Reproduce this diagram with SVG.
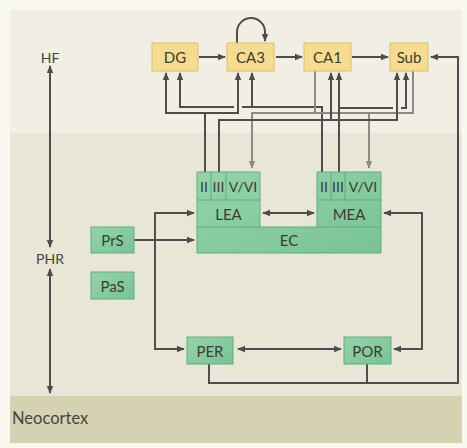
<svg xmlns="http://www.w3.org/2000/svg" width="467" height="448" viewBox="0 0 467 448">
<style>
.lbl{font-family:Lato,"Open Sans","Liberation Sans",sans-serif;font-size:15px;fill:#3c3c36;text-anchor:middle;dominant-baseline:central}
.side{font-family:Lato,"Open Sans","Liberation Sans",sans-serif;font-size:14px;fill:#45453e;text-anchor:middle;dominant-baseline:central}
.lay{font-family:Lato,"Open Sans","Liberation Sans",sans-serif;font-size:14px;fill:#3c3c36;text-anchor:middle;dominant-baseline:central}
.hf{fill:#f6dc8e;stroke:#dcc070;stroke-width:1}
.gr{fill:url(#g);stroke:#5fae7e;stroke-width:1}
.div{fill:none;stroke:#5fae7e;stroke-width:1}
.dk{fill:none;stroke:#4d4d4d;stroke-width:2;stroke-linecap:square;stroke-linejoin:miter}
.gy{fill:none;stroke:#8a8a88;stroke-width:2;stroke-linecap:square;stroke-linejoin:miter}
.a2{marker-start:url(#ad);marker-end:url(#ad)}
.a1{marker-end:url(#ad)}
.g1{marker-end:url(#ag)}
</style>
<defs>
<linearGradient id="g" x1="0" y1="0" x2="1" y2="1">
<stop offset="0" stop-color="#93d4a9"/>
<stop offset="1" stop-color="#79c393"/>
</linearGradient>
<marker id="ad" viewBox="0 0 10 10" refX="7.5" refY="5" markerWidth="8" markerHeight="8" markerUnits="userSpaceOnUse" orient="auto-start-reverse">
<path d="M0,1 L10,5 L0,9 z" fill="#4d4d4d"/>
</marker>
<marker id="ag" viewBox="0 0 10 10" refX="7.5" refY="5" markerWidth="8" markerHeight="8" markerUnits="userSpaceOnUse" orient="auto-start-reverse">
<path d="M0,1 L10,5 L0,9 z" fill="#8a8a88"/>
</marker>
</defs>

<g id="background">
<rect x="0" y="0" width="467" height="448" fill="#f8f7f0"/>
<rect x="10" y="10" width="452" height="123" fill="#f1efe3"/>
<rect x="10" y="133" width="452" height="263" fill="#e8e7d7"/>
<rect x="10" y="396" width="452" height="47" fill="#d5d2b3"/>
</g>

<g id="region-labels">
<text class="side" x="50" y="57">HF</text>
<text class="side" x="50" y="258">PHR</text>
<text class="side" x="12" y="418" style="font-size:16.5px;text-anchor:start">Neocortex</text>
</g>

<g id="connectors">
<!-- left region arrows -->
<path class="dk a2" d="M50,67 V246"/>
<path class="dk a2" d="M50,270 V392"/>
<!-- HF chain -->
<path class="dk a1" d="M200,57 H224"/>
<path class="dk a1" d="M277,57 H301"/>
<path class="dk a1" d="M353,57 H387"/>
<path class="dk a1" d="M237,43 V32 A14,14 0 0 1 265,32 V40"/>
<!-- LEA II -> DG, CA3 -->
<path class="dk a2" d="M166,74 V113 H238 V74"/>
<path class="dk" d="M205,172 V113"/>
<!-- MEA II -> DG, CA3 -->
<path class="dk" d="M180,74 V107 H233" style="marker-start:url(#ad)"/>
<path class="dk" d="M243,107 H322 V172"/>
<path class="dk a1" d="M252,107 V74"/>
<!-- HF -> EC V/VI -->
<path class="gy g1" d="M413,71 V113 H252 V167"/>
<path class="gy" d="M315,71 V113"/>
<path class="gy g1" d="M369,113 V167"/>
<!-- LEA III -> CA1, Sub -->
<path class="dk a1" d="M219,172 V120 H397 V74"/>
<path class="dk a1" d="M331,120 V74"/>
<!-- MEA III -> CA1, Sub -->
<path class="dk a1" d="M339,172 V74"/>
<path class="dk" d="M339,108 H392"/>
<path class="dk a1" d="M402,108 H406 V74"/>
<!-- PHR connections -->
<path class="dk a1" d="M135,240 H193"/>
<path class="dk a2" d="M193,213 H155 V349 H183"/>
<path class="dk a2" d="M385,213 H422 V349 H395"/>
<path class="dk a2" d="M264,213 H313"/>
<path class="dk a2" d="M239,349 H340"/>
<path class="dk a1" d="M209,365 V383 H458 V57 H432"/>
<path class="dk" d="M367,365 V383"/>
</g>

<g id="DG"><rect class="hf" x="152" y="43" width="46" height="28"/><text class="lbl" x="175" y="57">DG</text></g>
<g id="CA3"><rect class="hf" x="227" y="43" width="47" height="28"/><text class="lbl" x="250.5" y="57">CA3</text></g>
<g id="CA1"><rect class="hf" x="304" y="43" width="47" height="28"/><text class="lbl" x="327.5" y="57">CA1</text></g>
<g id="Sub"><rect class="hf" x="390" y="43" width="38" height="28"/><text class="lbl" x="409" y="57">Sub</text></g>

<g id="PrS"><rect class="gr" x="91" y="227" width="43" height="26"/><text class="lbl" x="112.5" y="240">PrS</text></g>
<g id="PaS"><rect class="gr" x="91" y="272" width="43" height="27"/><text class="lbl" x="112.5" y="285.5">PaS</text></g>
<g id="PER"><rect class="gr" x="187" y="337" width="46" height="27"/><text class="lbl" x="210" y="350.5">PER</text></g>
<g id="POR"><rect class="gr" x="344" y="337" width="47" height="27"/><text class="lbl" x="367.5" y="350.5">POR</text></g>

<g id="EC">
<path class="gr" d="M197,172 H260 V227 H317 V172 H381 V253 H197 Z"/>
<path class="div" d="M197,200 H260 M317,200 H381 M197,227 H260 M317,227 H381 M211,172 V200 M226,172 V200 M331,172 V200 M345,172 V200"/>
<text class="lay" x="204" y="186.5">II</text>
<text class="lay" x="218.5" y="186.5">III</text>
<text class="lay" x="243" y="186.5">V/VI</text>
<text class="lay" x="324" y="186.5">II</text>
<text class="lay" x="338" y="186.5">III</text>
<text class="lay" x="363" y="186.5">V/VI</text>
<text class="lbl" x="228.5" y="213.5">LEA</text>
<text class="lbl" x="349" y="213.5">MEA</text>
<text class="lbl" x="289" y="240">EC</text>
</g>
</svg>
